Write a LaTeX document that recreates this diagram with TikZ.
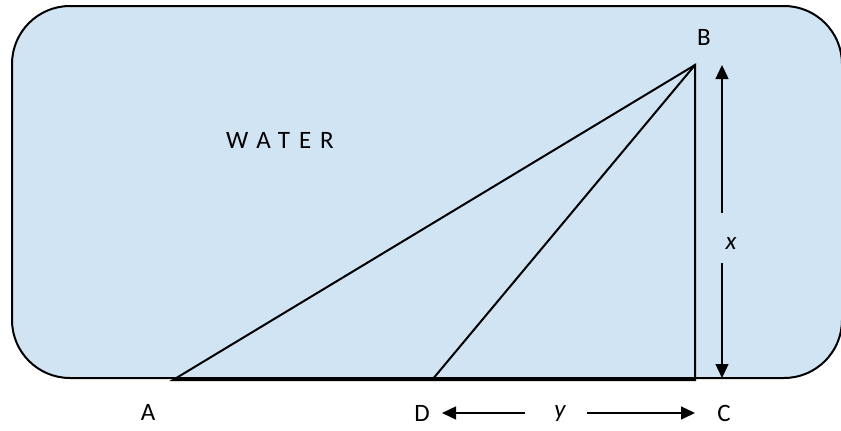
\documentclass[tikz,border=0pt]{standalone}
\usepackage{fontspec}
\setmainfont{Carlito}
\usetikzlibrary{arrows.meta}
\definecolor{water}{RGB}{208,228,244}
\tikzset{
  lbl/.style={font=\fontsize{25}{29}\selectfont, inner sep=0pt},
  geo/.style={line width=2pt, black},
  dim/.style={line width=1.4pt, black, -{Triangle[length=14pt,width=13pt]}}
}
\begin{document}
\begin{tikzpicture}[x=1pt,y=-1pt]
\useasboundingbox (0,0) rectangle (841,431);
\begin{scope}
\clip (0,0) rectangle (841,431);
\draw[line width=2pt, fill=water, rounded corners=58pt] (12,6) rectangle (842,378);
\end{scope}
\node[lbl] (water) at (280,140) {\addfontfeature{LetterSpace=36}WATER};
\coordinate (A) at (173,380);
\coordinate (B) at (695,65);
\coordinate (C) at (695,380);
\coordinate (D) at (432,380);
\draw[geo] (A) -- (B) -- (C) -- cycle;
\draw[geo] (D) -- (B);
\node[lbl] (lB) at (704,37) {B};
\node[lbl] (lA) at (148,412) {A};
\node[lbl] (lD) at (422,413) {D};
\node[lbl] (lC) at (724,413) {C};
\node[lbl] (lx) at (731,244) {\itshape x};
\node[lbl] (ly) at (560,414) {\itshape y};
\coordinate (xt) at (722,65);
\coordinate (xb) at (722,378);
\coordinate (yl) at (442,413);
\coordinate (yr) at (695,413);
\draw[dim] (722,213) -- (xt);
\draw[dim] (722,263) -- (xb);
\draw[dim] (525,413) -- (yl);
\draw[dim] (587,413) -- (yr);
\end{tikzpicture}
\end{document}
